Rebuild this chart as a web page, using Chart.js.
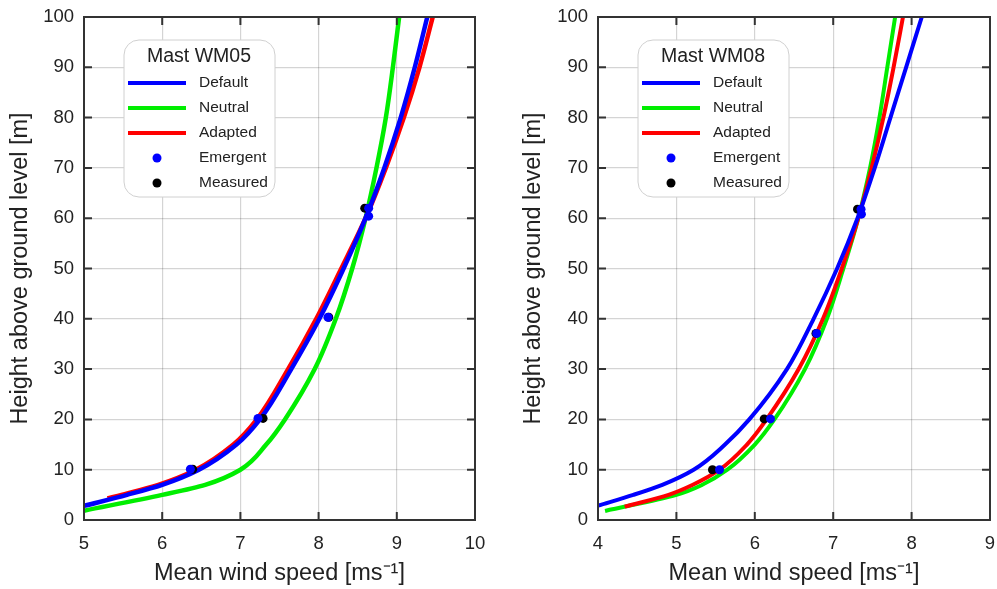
<!DOCTYPE html>
<html lang="en">
<head>
  <meta charset="UTF-8" />
  <title>Wind profiles WM05 / WM08</title>
  <script src="https://cdn.jsdelivr.net/npm/chart.js"></script>
  <style>
    * { box-sizing: border-box; margin: 0; padding: 0; }
    body { background: #fff; width: 997px; height: 589px; position: relative; overflow: hidden; }
    .panel { position: absolute; top: 0; height: 589px; }
    #left { left: 0; width: 487px; }
    #right { left: 497px; width: 500px; }
  </style>
</head>
<body>
  <div class="panel" id="left"><canvas id="wm05"></canvas></div>
  <div class="panel" id="right"><canvas id="wm08"></canvas></div>

  <script>
    // heights [m] at which the three profile curves were read
    const heights = [5, 7, 10, 15, 20, 30, 40, 50, 60, 70, 80, 90, 100];

    // Mast WM05 - mean wind speed [m/s]
    const wm05Default = [5.55, 6.0, 6.47, 6.95, 7.25, 7.65, 8.01, 8.32, 8.60, 8.84, 9.05, 9.23, 9.39];
    const wm05Neutral = [6.0, 6.55, 7.0, 7.33, 7.57, 7.95, 8.22, 8.43, 8.60, 8.74, 8.86, 8.95, 9.03];
    const wm05Adapted = [5.48, 5.95, 6.43, 6.91, 7.21, 7.61, 7.97, 8.29, 8.60, 8.86, 9.09, 9.29, 9.46];
    // lowest point of each curve: default, neutral, adapted
    const wm05BaseSpeed = [5.0, 5.0, 5.3];
    const wm05BaseHeight = [2.8, 1.85, 4.3];
    const wm05EmergentSpeed = [6.36, 7.225, 8.12, 8.64, 8.64];
    const wm05EmergentHeight = [10.1, 20.2, 40.3, 62.0, 60.4];
    const wm05MeasuredSpeed = [6.39, 7.29, 8.13, 8.59];
    const wm05MeasuredHeight = [10.1, 20.2, 40.3, 62.0];

    // Mast WM08
    const wm08Default = [4.45, 4.82, 5.22, 5.62, 5.93, 6.41, 6.75, 7.05, 7.31, 7.53, 7.73, 7.93, 8.13];
    const wm08Neutral = [5.0, 5.33, 5.65, 6.0, 6.25, 6.64, 6.92, 7.13, 7.32, 7.47, 7.59, 7.69, 7.79];
    const wm08Adapted = [4.9, 5.21, 5.55, 5.9, 6.15, 6.56, 6.87, 7.11, 7.32, 7.49, 7.64, 7.77, 7.89];
    const wm08BaseSpeed = [4.0, 4.09, 4.34];
    const wm08BaseHeight = [2.85, 1.8, 2.65];
    const wm08EmergentSpeed = [5.55, 6.2, 6.79, 7.355, 7.36];
    const wm08EmergentHeight = [10.0, 20.1, 37.1, 61.8, 60.8];
    const wm08MeasuredSpeed = [5.46, 6.12, 6.78, 7.31];
    const wm08MeasuredHeight = [10.0, 20.1, 37.1, 61.8];

    const FONT = '"Liberation Sans", Arial, sans-serif';
    Chart.defaults.font.family = FONT;
    Chart.defaults.color = '#222';

    function curve(speeds, baseSpeed, baseHeight) {
      return [{ x: baseSpeed, y: baseHeight }].concat(heights.map((h, i) => ({ x: speeds[i], y: h })));
    }
    function points(speeds, hs) {
      return speeds.map((s, i) => ({ x: s, y: hs[i] }));
    }

    // frame + inward tick marks on all four sides
    const frame = {
      id: 'frame',
      afterDatasetsDraw(chart) {
        const { ctx, chartArea: a, scales: { x, y } } = chart;
        ctx.save();
        ctx.strokeStyle = '#333';
        ctx.lineWidth = 2;
        ctx.beginPath();
        x.ticks.forEach(t => {
          const px = x.getPixelForValue(t.value);
          ctx.moveTo(px, a.bottom); ctx.lineTo(px, a.bottom - 8);
          ctx.moveTo(px, a.top); ctx.lineTo(px, a.top + 8);
        });
        y.ticks.forEach(t => {
          const py = y.getPixelForValue(t.value);
          ctx.moveTo(a.left, py); ctx.lineTo(a.left + 8, py);
          ctx.moveTo(a.right, py); ctx.lineTo(a.right - 8, py);
        });
        ctx.stroke();
        ctx.strokeRect(a.left, a.top, a.right - a.left, a.bottom - a.top);
        ctx.restore();
      }
    };

    // legend box inside the plot, top left
    const insetLegend = {
      id: 'insetLegend',
      afterDraw(chart, args, opts) {
        const { ctx, chartArea: a } = chart;
        const x0 = a.left + 40, y0 = a.top + 23, w = 151, h = 157, r = 15;
        ctx.save();
        ctx.beginPath();
        ctx.moveTo(x0 + r, y0);
        ctx.arcTo(x0 + w, y0, x0 + w, y0 + h, r);
        ctx.arcTo(x0 + w, y0 + h, x0, y0 + h, r);
        ctx.arcTo(x0, y0 + h, x0, y0, r);
        ctx.arcTo(x0, y0, x0 + w, y0, r);
        ctx.closePath();
        ctx.fillStyle = '#fff';
        ctx.fill();
        ctx.strokeStyle = '#d0d0d0';
        ctx.lineWidth = 1;
        ctx.stroke();

        ctx.fillStyle = '#222';
        ctx.textAlign = 'center';
        ctx.textBaseline = 'middle';
        ctx.font = '19.5px ' + FONT;
        ctx.fillText(opts.title, x0 + 75, y0 + 17);

        ctx.textAlign = 'left';
        ctx.font = '15.5px ' + FONT;
        chart.data.datasets.forEach((ds, i) => {
          const yy = y0 + 43 + i * 25;
          if (ds.showLine) {
            ctx.strokeStyle = ds.borderColor;
            ctx.lineWidth = 4;
            ctx.beginPath();
            ctx.moveTo(x0 + 4, yy);
            ctx.lineTo(x0 + 62, yy);
            ctx.stroke();
          } else {
            ctx.fillStyle = ds.backgroundColor;
            ctx.beginPath();
            ctx.arc(x0 + 33, yy, 4.5, 0, Math.PI * 2);
            ctx.fill();
          }
          ctx.fillStyle = '#222';
          ctx.fillText(ds.label, x0 + 75, yy);
        });
        ctx.restore();
      }
    };

    function makeChart(id, cfg) {
      // heights are the independent variable, so the spline runs along y
      const line = (label, color, data, order) => ({
        label, data, order,
        indexAxis: 'y',
        showLine: true,
        borderColor: color,
        borderWidth: cfg.lineWidth,
        pointRadius: 0,
        cubicInterpolationMode: 'monotone'
      });
      const dots = (label, color, data, order) => ({
        label, data, order,
        showLine: false,
        backgroundColor: color,
        pointRadius: 4.5,
        pointBorderWidth: 0
      });

      new Chart(document.getElementById(id), {
        type: 'scatter',
        data: {
          datasets: [
            line('Default', '#0000ff', curve(cfg.def, cfg.baseSpeed[0], cfg.baseHeight[0]), 2),
            line('Neutral', '#00ee00', curve(cfg.neu, cfg.baseSpeed[1], cfg.baseHeight[1]), 4),
            line('Adapted', '#ff0000', curve(cfg.ada, cfg.baseSpeed[2], cfg.baseHeight[2]), 3),
            dots('Emergent', '#0000ff', points(cfg.emS, cfg.emH), 0),
            dots('Measured', '#000000', points(cfg.meS, cfg.meH), 1)
          ]
        },
        options: {
          responsive: true,
          maintainAspectRatio: false,
          animation: false,
          devicePixelRatio: 1,
          layout: { padding: { top: 17, right: cfg.padRight, left: 0, bottom: 0 } },
          plugins: {
            legend: { display: false },
            tooltip: { enabled: false },
            insetLegend: { title: cfg.title }
          },
          scales: {
            x: {
              type: 'linear',
              min: cfg.xMin, max: cfg.xMax,
              ticks: { stepSize: 1, padding: 13, font: { size: 18.5 }, color: '#222' },
              grid: { color: 'rgba(0,0,0,0.17)', lineWidth: 1.2, drawTicks: false },
              border: { display: false },
              title: { display: true, text: 'Mean wind speed [ms⁻¹]', font: { size: 23.5 }, color: '#222', padding: { top: 0, bottom: 1 } },
              afterFit: s => { s.height = 69; s.paddingLeft = 0; s.paddingRight = 0; }
            },
            y: {
              type: 'linear',
              min: 0, max: 100,
              ticks: { stepSize: 10, padding: 10, font: { size: 18.5 }, color: '#222' },
              grid: { color: 'rgba(0,0,0,0.17)', lineWidth: 1.2, drawTicks: false },
              border: { display: false },
              title: { display: true, text: 'Height above ground level [m]', font: { size: 23.5 }, color: '#222', padding: { top: cfg.titlePad, bottom: 0 } },
              afterFit: s => { s.width = cfg.yWidth; s.paddingTop = 0; s.paddingBottom = 0; }
            }
          }
        },
        plugins: [frame, insetLegend]
      });
    }

    makeChart('wm05', {
      title: 'Mast WM05', xMin: 5, xMax: 10, lineWidth: 4.5,
      padRight: 12, yWidth: 84, titlePad: 6,
      def: wm05Default, neu: wm05Neutral, ada: wm05Adapted,
      baseSpeed: wm05BaseSpeed, baseHeight: wm05BaseHeight,
      emS: wm05EmergentSpeed, emH: wm05EmergentHeight,
      meS: wm05MeasuredSpeed, meH: wm05MeasuredHeight
    });

    makeChart('wm08', {
      title: 'Mast WM08', xMin: 4, xMax: 9, lineWidth: 4,
      padRight: 7, yWidth: 101, titlePad: 22,
      def: wm08Default, neu: wm08Neutral, ada: wm08Adapted,
      baseSpeed: wm08BaseSpeed, baseHeight: wm08BaseHeight,
      emS: wm08EmergentSpeed, emH: wm08EmergentHeight,
      meS: wm08MeasuredSpeed, meH: wm08MeasuredHeight
    });
  </script>
</body>
</html>
